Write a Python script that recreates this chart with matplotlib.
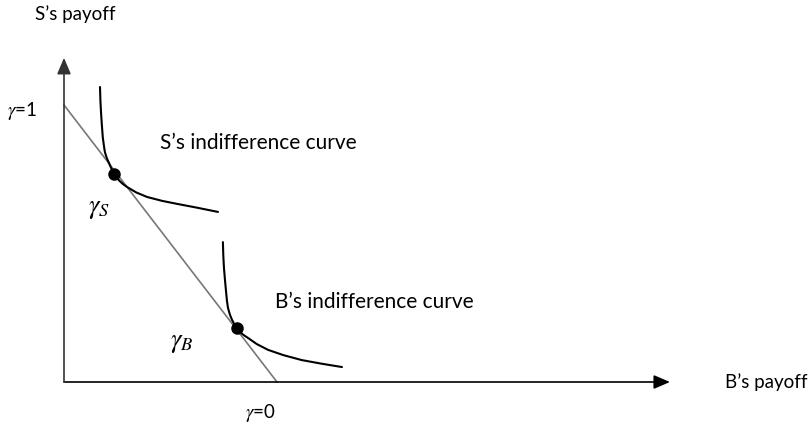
import matplotlib
matplotlib.use("Agg")
import matplotlib.pyplot as plt

plt.rcParams['font.family'] = ['Lato', 'DejaVu Sans']
plt.rcParams['mathtext.fontset'] = 'stix'

# Budget line gamma from 1 (S gets all) to 0 (B gets all)
line_x = [0.0, 1.0]
line_y = [1.0, 0.0]

# S's indifference curve
s_curve_x = [0.169, 0.171, 0.174, 0.178, 0.182, 0.187, 0.192, 0.201, 0.211, 0.222, 0.235, 0.248, 0.262, 0.278, 0.296, 0.340, 0.390, 0.460, 0.531, 0.620, 0.723]
s_curve_y = [1.065, 1.015, 0.971, 0.925, 0.884, 0.855, 0.830, 0.808, 0.791, 0.771, 0.751, 0.737, 0.725, 0.714, 0.704, 0.684, 0.668, 0.654, 0.643, 0.630, 0.614]

# B's indifference curve
b_curve_x = [0.746, 0.748, 0.751, 0.756, 0.761, 0.765, 0.770, 0.779, 0.789, 0.800, 0.812, 0.823, 0.836, 0.850, 0.864, 0.905, 0.958, 1.030, 1.117, 1.210, 1.305]
b_curve_y = [0.505, 0.455, 0.412, 0.366, 0.325, 0.293, 0.267, 0.243, 0.224, 0.208, 0.195, 0.184, 0.174, 0.166, 0.159, 0.137, 0.116, 0.097, 0.079, 0.066, 0.054]

# tangency points
dot_x = [0.237, 0.810]
dot_y = [0.751, 0.195]

x_axis_end = 2.845
y_axis_end = 1.170

fig = plt.figure(figsize=(8.09, 4.29), dpi=100)
ax = fig.add_axes([0, 0, 1, 1])
ax.set_xlim(-64 / 213, (809 - 64) / 213)
ax.set_ylim((382 - 429) / 277, 382 / 277)
ax.axis('off')

# axes arrows
ax.annotate('', xy=(x_axis_end, 0), xytext=(0, 0),
            arrowprops=dict(arrowstyle='-|>,head_length=0.7,head_width=0.3', color='black',
                            lw=1.2, shrinkA=0, shrinkB=0, mutation_scale=14))
ax.annotate('', xy=(0, y_axis_end), xytext=(0, 0),
            arrowprops=dict(arrowstyle='-|>,head_length=0.7,head_width=0.3', color='#333333',
                            lw=1.2, shrinkA=0, shrinkB=0, mutation_scale=14))

ax.plot(line_x, line_y, color='#777777', lw=1.2)
ax.plot(s_curve_x, s_curve_y, color='black', lw=1.5, solid_capstyle='round', solid_joinstyle='round')
ax.plot(b_curve_x, b_curve_y, color='black', lw=1.5, solid_capstyle='round', solid_joinstyle='round')
ax.plot(dot_x, dot_y, 'o', color='black', ms=8)

fs = 15
ax.text(-0.136, 1.329, 'S’s payoff', fontsize=13.5, va='center', ha='left')
ax.text(3.103, 0.0, 'B’s payoff', fontsize=13.5, va='center', ha='left')
ax.text(-0.268, 0.978, r'$\gamma$=1', fontsize=13.5, va='center', ha='left')
ax.text(0.850, -0.112, r'$\gamma$=0', fontsize=13.5, va='center', ha='left')
ax.text(0.451, 0.863, 'S’s indifference curve', fontsize=fs, va='center', ha='left')
ax.text(0.991, 0.289, 'B’s indifference curve', fontsize=fs, va='center', ha='left')
ax.text(0.113, 0.628, r'$\gamma_S$', fontsize=19, va='center', ha='left')
ax.text(0.498, 0.141, r'$\gamma_B$', fontsize=19, va='center', ha='left')

fig.savefig('out.png', dpi=100)
